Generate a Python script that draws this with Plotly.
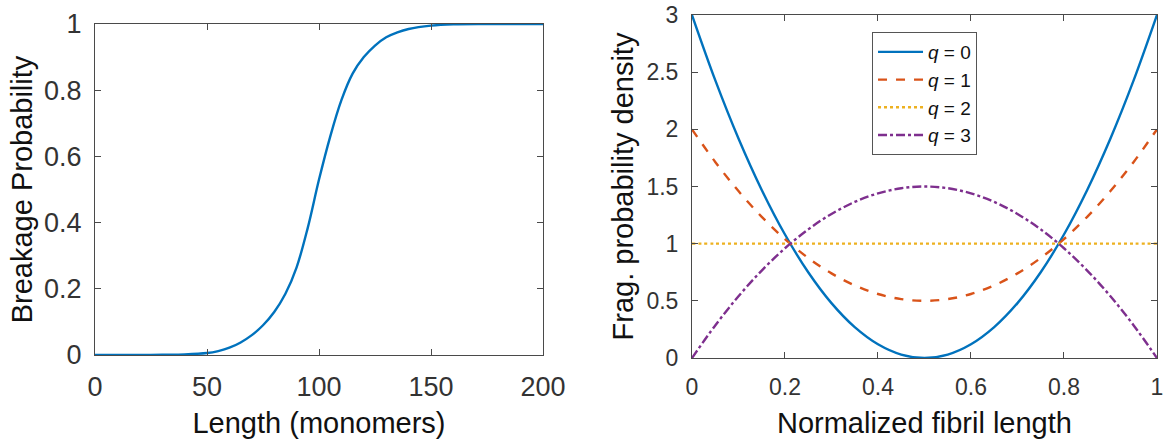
import plotly.graph_objects as go

# ---- Left panel data ----
length_x = [0, 10, 20, 30, 40, 50, 55, 60, 65, 70, 75, 80, 85, 90, 95, 100, 105, 110,
            115, 120, 125, 130, 135, 140, 150, 160, 175, 200]
breakage_p = [0, 0, 0, 0.001, 0.002, 0.006, 0.012, 0.022, 0.038, 0.06, 0.09, 0.13, 0.185,
              0.265, 0.385, 0.53, 0.66, 0.77, 0.85, 0.9, 0.935, 0.96, 0.975, 0.985, 0.995,
              0.999, 1, 1]

# ---- Right panel data ----
norm_x = [0, 0.05, 0.1, 0.15, 0.2, 0.25, 0.3, 0.35, 0.4, 0.45, 0.5,
          0.55, 0.6, 0.65, 0.7, 0.75, 0.8, 0.85, 0.9, 0.95, 1]
q0 = [3, 2.43, 1.92, 1.47, 1.08, 0.75, 0.48, 0.27, 0.12, 0.03, 0,
      0.03, 0.12, 0.27, 0.48, 0.75, 1.08, 1.47, 1.92, 2.43, 3]
q1 = [2, 1.715, 1.46, 1.235, 1.04, 0.875, 0.74, 0.635, 0.56, 0.515, 0.5,
      0.515, 0.56, 0.635, 0.74, 0.875, 1.04, 1.235, 1.46, 1.715, 2]
q2 = [1, 1, 1, 1, 1, 1, 1, 1, 1, 1, 1, 1, 1, 1, 1, 1, 1, 1, 1, 1, 1]
q3 = [0, 0.285, 0.54, 0.765, 0.96, 1.125, 1.26, 1.365, 1.44, 1.485, 1.5,
      1.485, 1.44, 1.365, 1.26, 1.125, 0.96, 0.765, 0.54, 0.285, 0]
series_names = ["<i>q</i> = 0", "<i>q</i> = 1", "<i>q</i> = 2", "<i>q</i> = 3"]

left_xticks = [0, 50, 100, 150, 200]
left_yticks = [0, 0.2, 0.4, 0.6, 0.8, 1]
left_yticklabels = ["0", "0.2", "0.4", "0.6", "0.8", "1"]
right_xticks = [0, 0.2, 0.4, 0.6, 0.8, 1]
right_xticklabels = ["0", "0.2", "0.4", "0.6", "0.8", "1"]
right_yticks = [0, 0.5, 1, 1.5, 2, 2.5, 3]
right_yticklabels = ["0", "0.5", "1", "1.5", "2", "2.5", "3"]

colors = ["#0072BD", "#D95319", "#EDB120", "#7E2F8E"]
dashes = ["solid", "dash", "dot", "dashdot"]

FONT = "Liberation Sans, Arial, sans-serif"
AX = "#4a4a4a"

fig = go.Figure()
fig.add_trace(go.Scatter(x=length_x, y=breakage_p, mode="lines",
                         line=dict(color=colors[0], width=2.4, shape="spline"),
                         showlegend=False, xaxis="x", yaxis="y"))
for name, ys, c, d in zip(series_names, [q0, q1, q2, q3], colors, dashes):
    fig.add_trace(go.Scatter(x=norm_x, y=ys, mode="lines", name=name,
                             line=dict(color=c, width=2.4, dash=d, shape="spline"),
                             xaxis="x2", yaxis="y2"))

common = dict(showline=True, linecolor=AX, linewidth=1, mirror="ticks",
              ticks="inside", ticklen=6, tickcolor=AX, showgrid=False, zeroline=False,
              automargin=False, ticklabeloverflow="allow")

fig.update_layout(
    width=1163, height=439,
    margin=dict(l=0, r=0, t=0, b=0),
    paper_bgcolor="white", plot_bgcolor="white",
    font=dict(family=FONT, color="#222"),
    xaxis=dict(domain=[0.0817, 0.4669], range=[0, 200], tickvals=left_xticks,
               tickfont=dict(size=27, color="#333"), ticklabelstandoff=8,
               title=dict(text="Length (monomers)", font=dict(size=29, color="#111"), standoff=12),
               anchor="y", **common),
    yaxis=dict(domain=[0.1913, 0.9453], range=[0, 1], tickvals=left_yticks,
               ticktext=left_yticklabels, tickfont=dict(size=27, color="#333"),
               ticklabelstandoff=7,
               title=dict(text="Breakage Probability", font=dict(size=29, color="#111"), standoff=2),
               anchor="x", **common),
    xaxis2=dict(domain=[0.595, 0.9948], range=[0, 1], tickvals=right_xticks,
                ticktext=right_xticklabels, tickfont=dict(size=23, color="#333"),
                ticklabelstandoff=8,
                title=dict(text="Normalized fibril length", font=dict(size=29, color="#111"), standoff=14),
                anchor="y2", **common),
    yaxis2=dict(domain=[0.1845, 0.9658], range=[0, 3], tickvals=right_yticks,
                ticktext=right_yticklabels, tickfont=dict(size=23, color="#333"),
                ticklabelstandoff=8,
                title=dict(text="Frag. probability density", font=dict(size=29, color="#111"), standoff=4),
                anchor="x2", **common),
    legend=dict(x=0.7498, y=0.927, xanchor="left", yanchor="top",
                bgcolor="white", bordercolor="#555", borderwidth=1,
                font=dict(size=19, color="#111", family=FONT),
                itemwidth=45, tracegroupgap=0),
)

fig.write_html(
    "out.html",
    config={"displayModeBar": False},
    post_script=(
        "document.body.style.margin='0';"
        "document.body.style.overflow='hidden';"
        "document.documentElement.style.overflow='hidden';"
    ),
)
